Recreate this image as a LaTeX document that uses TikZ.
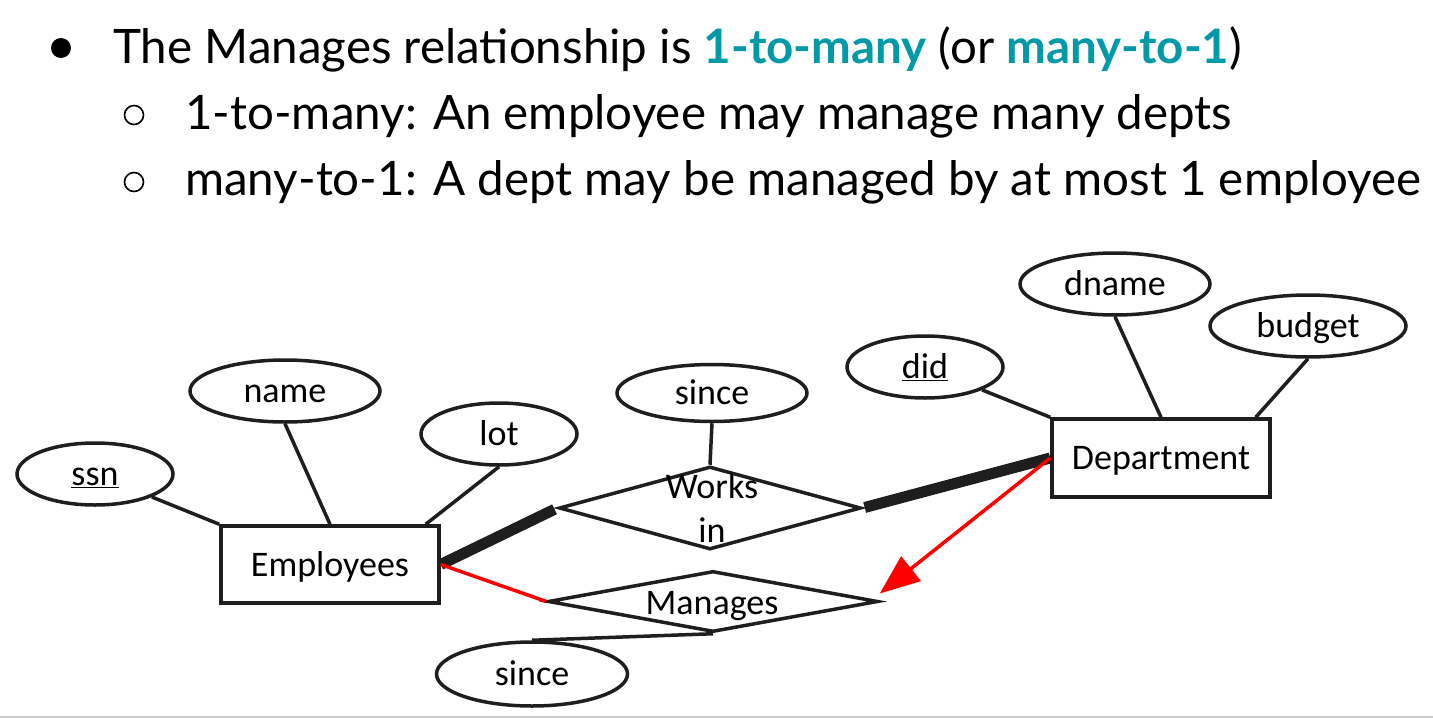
\documentclass[tikz,border=0pt]{standalone}
\usepackage{fontspec}
\setmainfont{Lato}
\newfontfamily\calfont{Carlito}
\usetikzlibrary{arrows.meta,shapes.geometric,calc}
\definecolor{tealhi}{RGB}{0,153,168}
\definecolor{redline}{RGB}{255,0,0}
\definecolor{ink}{RGB}{30,30,30}
\begin{document}
\begin{tikzpicture}[x=1pt,y=-1pt,
  hdr/.style={anchor=base west, inner sep=0pt, font=\fontsize{47.5}{56}\selectfont},
  dot/.style={circle, fill=black, minimum size=20pt, inner sep=0pt},
  hollow/.style={circle, draw=black, line width=1.6pt, minimum size=19pt, inner sep=0pt},
  erfont/.style={font=\calfont\fontsize{36}{40}\selectfont, text height=23pt, text depth=0pt},
  attr/.style={ellipse, draw=ink, line width=3.5pt, inner sep=0pt, erfont},
  entity/.style={rectangle, draw=ink, line width=3.5pt, inner sep=0pt, minimum width=218pt, erfont},
  rel/.style={diamond, draw=ink, line width=3.5pt, inner sep=0pt},
  lbl/.style={inner sep=0pt, erfont},
  link/.style={line width=3.5pt, draw=ink},
  total/.style={line width=11pt, draw=ink},
  redlink/.style={line width=3.5pt, draw=redline},
]
\useasboundingbox (0,0) rectangle (1433,720);

% bullet list
\node[dot] (b1) at (61,48) {};
\node[hdr] (t1) at (113,63) {The Manages relationship is \textbf{\color{tealhi}1-to-many} (or \textbf{\color{tealhi}many-to-1})};
\node[hollow] (b2) at (134,115) {};
\node[hdr] (t2) at (185,129) {1-to-many: An employee may manage many depts};
\node[hollow] (b3) at (134,182) {};
\node[hdr] (t3) at (185,195) {many-to-1: A dept may be managed by at most 1 employee};

% entities
\node[entity, minimum height=77pt] (emp) at (330,564.5) {Employees};
\node[entity, minimum height=78pt] (dept) at (1161,458) {Department};

% attributes
\node[attr, minimum width=156pt, minimum height=62pt] (ssn) at (95,474) {\underline{ssn}};
\node[attr, minimum width=190pt, minimum height=62pt] (name) at (285,391) {name};
\node[attr, minimum width=156pt, minimum height=62pt] (lot) at (499,434) {lot};
\node[attr, minimum width=190pt, minimum height=57pt] (sw) at (712,393) {since};
\node[attr, minimum width=156pt, minimum height=62pt] (did) at (925,367) {\underline{did}};
\node[attr, minimum width=190pt, minimum height=62pt] (dname) at (1115,284) {dname};
\node[attr, minimum width=196pt, minimum height=62pt] (budget) at (1308,326) {budget};
\node[attr, minimum width=191pt, minimum height=64pt] (sm) at (532,674) {since};

% relationships
\node[rel, minimum width=302pt, minimum height=83pt] (wk) at (710,508) {};
\node[lbl] (wkl1) at (712,486.5) {Works};
\node[lbl] (wkl2) at (712,530.5) {in};
\node[rel, minimum width=330pt, minimum height=61pt] (mg) at (713,601.5) {};
\node[lbl] (mgl) at (712,602.5) {Manages};

% attribute links
\draw[link] (ssn) -- (emp.north west);
\draw[link] (name.south) -- (emp.north);
\draw[link] (lot.south) -- ($(emp.north east)+(-15,0)$);
\draw[link] (did) -- (dept.north west);
\draw[link] (dname.south) -- (dept.north);
\draw[link] (budget.south) -- ($(dept.north east)+(-16,0)$);
\draw[link] (sw.south) -- (wk.north);
\draw[link] (mg.south) -- (sm.north);

% participation
\draw[total, shorten >=3pt] (emp.east) -- (wk.west);
\draw[total, shorten <=2pt] (wk.east) -- (dept.west);
\draw[redlink] (emp.east) -- (mg.west);
\draw[redlink, -{Triangle[length=40pt, width=31pt]}, redline] (dept.west) -- ($(mg.east)+(0,-8)$);

% slide edge
\draw[line width=1.5pt, draw=black!20] (0,717) -- (1433,717);
\end{tikzpicture}
\end{document}
